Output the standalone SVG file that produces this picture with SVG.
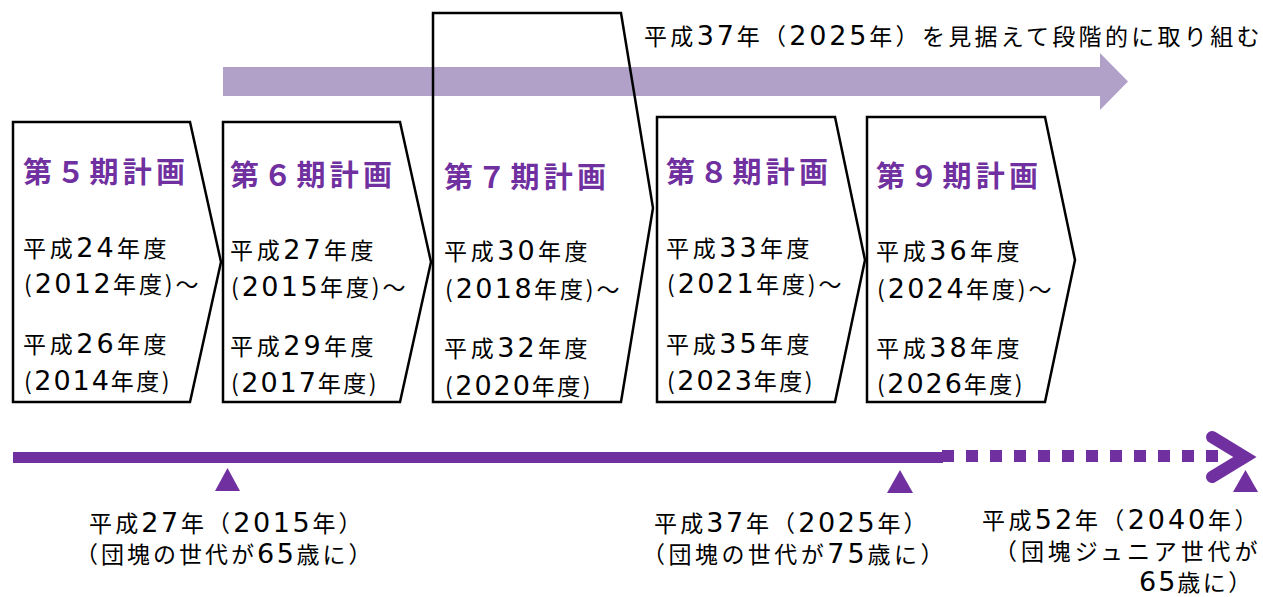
<svg xmlns="http://www.w3.org/2000/svg" width="1263" height="597" viewBox="0 0 1263 597">
<style>
text{font-family:"Noto Sans CJK JP","Noto Sans CJK SC",sans-serif;fill:#000;}
.t{font-size:23px;letter-spacing:2.5px;}
.d{font-family:"DejaVu Sans","Noto Sans CJK JP",sans-serif;font-size:27px;letter-spacing:2px;}
.h{font-size:29px;font-weight:700;fill:#7030A0;}
.box{fill:none;stroke:#000;stroke-width:2.5;stroke-linejoin:miter;}
.pu{fill:#7030A0;}
</style>
<rect width="1263" height="597" fill="#fff"/>
<g id="connectors">
<polygon id="big-arrow" points="223,67 1100,67 1100,53 1128,81.5 1100,110 1100,96 223,96" fill="#B1A0C7"/>
<rect id="timeline-solid" x="13" y="452" width="930" height="11" class="pu"/>
<line id="timeline-dotted" x1="942" y1="456" x2="1220" y2="456" stroke="#7030A0" stroke-width="12" stroke-dasharray="12 12"/>
<polyline id="timeline-head" points="1212,437 1245,457 1212,477" fill="none" stroke="#7030A0" stroke-width="12" stroke-linecap="round" stroke-linejoin="miter" stroke-miterlimit="10"/>
</g>
<text class="t" x="644" y="45" textLength="618">平成<tspan class="d">37</tspan>年（<tspan class="d">2025</tspan>年）を見据えて段階的に取り組む</text>
<g id="plan5">
<polygon class="box" points="13,122 190,122 221,262 190,402 13,402"/>
<text class="h" x="23" y="183" textLength="162">第５期計画</text>
<text class="t" x="23" y="257" textLength="146">平成<tspan class="d">24</tspan>年度</text>
<text class="t" x="24" y="293" textLength="177">(<tspan class="d">2012</tspan>年度)～</text>
<text class="t" x="23" y="353" textLength="146">平成<tspan class="d">26</tspan>年度</text>
<text class="t" x="24" y="390" textLength="148">(<tspan class="d">2014</tspan>年度)</text>
</g>
<g id="plan6">
<polygon class="box" points="223,122 400,122 431,262 400,402 223,402"/>
<text class="h" x="230" y="186" textLength="162">第６期計画</text>
<text class="t" x="230" y="259" textLength="146">平成<tspan class="d">27</tspan>年度</text>
<text class="t" x="231" y="296" textLength="177">(<tspan class="d">2015</tspan>年度)～</text>
<text class="t" x="230" y="355" textLength="146">平成<tspan class="d">29</tspan>年度</text>
<text class="t" x="231" y="392" textLength="148">(<tspan class="d">2017</tspan>年度)</text>
</g>
<g id="plan7">
<polygon class="box" points="433,13 621,13 653,208 621,402 433,402"/>
<text class="h" x="444" y="188" textLength="162">第７期計画</text>
<text class="t" x="444" y="260" textLength="146">平成<tspan class="d">30</tspan>年度</text>
<text class="t" x="445" y="298" textLength="177">(<tspan class="d">2018</tspan>年度)～</text>
<text class="t" x="444" y="357" textLength="146">平成<tspan class="d">32</tspan>年度</text>
<text class="t" x="445" y="395" textLength="148">(<tspan class="d">2020</tspan>年度)</text>
</g>
<g id="plan8">
<polygon class="box" points="657,117 835,117 865,260 835,402 657,402"/>
<text class="h" x="666" y="183" textLength="162">第８期計画</text>
<text class="t" x="666" y="257" textLength="146">平成<tspan class="d">33</tspan>年度</text>
<text class="t" x="667" y="293" textLength="177">(<tspan class="d">2021</tspan>年度)～</text>
<text class="t" x="666" y="353" textLength="146">平成<tspan class="d">35</tspan>年度</text>
<text class="t" x="667" y="390" textLength="148">(<tspan class="d">2023</tspan>年度)</text>
</g>
<g id="plan9">
<polygon class="box" points="867,117 1045,117 1075,260 1045,402 867,402"/>
<text class="h" x="876" y="187" textLength="162">第９期計画</text>
<text class="t" x="876" y="260" textLength="146">平成<tspan class="d">36</tspan>年度</text>
<text class="t" x="877" y="298" textLength="177">(<tspan class="d">2024</tspan>年度)～</text>
<text class="t" x="876" y="357" textLength="146">平成<tspan class="d">38</tspan>年度</text>
<text class="t" x="877" y="393" textLength="148">(<tspan class="d">2026</tspan>年度)</text>
</g>
<g id="marker2015">
<polygon class="pu" points="215,491 240,491 227.5,468"/>
<text class="t" x="89" y="532" textLength="275">平成<tspan class="d">27</tspan>年（<tspan class="d">2015</tspan>年）</text>
<text class="t" x="75" y="563" textLength="299">（団塊の世代が<tspan class="d">65</tspan>歳に）</text>
</g>
<g id="marker2025">
<polygon class="pu" points="887,493 913,493 900,470"/>
<text class="t" x="654" y="532" textLength="275">平成<tspan class="d">37</tspan>年（<tspan class="d">2025</tspan>年）</text>
<text class="t" x="642" y="563" textLength="304">（団塊の世代が<tspan class="d">75</tspan>歳に）</text>
</g>
<g id="marker2040">
<polygon class="pu" points="1233,492 1258,492 1245.5,470"/>
<text class="t" x="982" y="529" textLength="278">平成<tspan class="d">52</tspan>年（<tspan class="d">2040</tspan>年）</text>
<text class="t" x="994" y="560" textLength="266">（団塊ジュニア世代が</text>
<text class="t" x="1139" y="591"><tspan class="d">65</tspan>歳に）</text>
</g>
</svg>
